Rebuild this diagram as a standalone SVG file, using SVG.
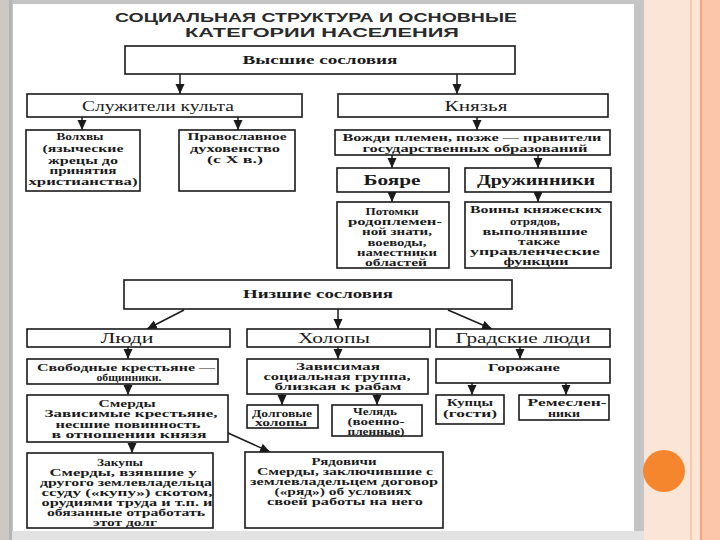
<svg xmlns="http://www.w3.org/2000/svg" width="720" height="540" viewBox="0 0 720 540">
<style>
.box{fill:#fff;stroke:#1a1a1a;stroke-width:1.6}
.t{font-family:"Liberation Serif","DejaVu Serif",serif;font-weight:bold;font-size:9.5px;fill:#1a1a1a;text-anchor:middle}
.h{font-family:"Liberation Serif","DejaVu Serif",serif;font-size:14px;fill:#1a1a1a;text-anchor:middle}
.hb{font-family:"Liberation Serif","DejaVu Serif",serif;font-weight:bold;font-size:14px;fill:#1a1a1a;text-anchor:middle}
.m{font-family:"Liberation Serif","DejaVu Serif",serif;font-weight:bold;font-size:12px;fill:#1a1a1a;text-anchor:middle}
.ti{font-family:"Liberation Sans","DejaVu Sans",sans-serif;font-weight:bold;font-size:12px;fill:#2a2a2a;text-anchor:middle}
.c{stroke:#1a1a1a;stroke-width:1.5;fill:none;marker-end:url(#ah)}
</style>
<defs>
<marker id="ah" markerUnits="userSpaceOnUse" markerWidth="10" markerHeight="10" viewBox="0 0 10 10" refX="10" refY="5" orient="auto">
<path d="M0,0.5 L10,5 L0,9.5 Z" fill="#1a1a1a"/>
</marker>
</defs>
<!-- background / slide frame -->
<rect x="0" y="0" width="720" height="540" fill="#fbe5d6"/>
<rect x="0" y="0" width="13" height="540" fill="#cdc8c3"/>
<rect x="9" y="0" width="3" height="540" fill="#b5b5b5"/>
<rect x="12" y="0" width="632" height="540" fill="#c4c4c4"/>
<rect x="13" y="4" width="621" height="527" fill="#ffffff"/>
<rect x="12" y="531" width="632" height="9" fill="#e2e2e2"/>
<rect x="690" y="0" width="2" height="540" fill="#f2cbb5"/>
<rect x="700" y="0" width="20" height="540" fill="#fcc6ab"/>
<rect x="700" y="0" width="2" height="540" fill="#f5a57c"/>
<circle cx="664" cy="471" r="21" fill="#f6862e"/>

<g id="title">
<text class="ti" x="316" y="21.5" textLength="402" lengthAdjust="spacingAndGlyphs">СОЦИАЛЬНАЯ СТРУКТУРА  И ОСНОВНЫЕ</text>
<text class="ti" x="322" y="36.5" textLength="274" lengthAdjust="spacingAndGlyphs">КАТЕГОРИИ  НАСЕЛЕНИЯ</text>
</g>

<g id="connectors">
<line class="c" x1="180" y1="74" x2="180" y2="94"/>
<line class="c" x1="457" y1="74" x2="457" y2="94"/>
<line class="c" x1="82" y1="117" x2="82" y2="130"/>
<line class="c" x1="238" y1="117" x2="238" y2="130"/>
<line class="c" x1="477" y1="117" x2="477" y2="130"/>
<line class="c" x1="392" y1="155" x2="392" y2="168"/>
<line class="c" x1="538" y1="155" x2="538" y2="168"/>
<line class="c" x1="392" y1="192" x2="392" y2="202"/>
<line class="c" x1="538" y1="192" x2="538" y2="202"/>
<line class="c" x1="184" y1="310" x2="147" y2="329"/>
<line class="c" x1="338" y1="309" x2="338" y2="329"/>
<line class="c" x1="448" y1="310" x2="492" y2="329"/>
<line class="c" x1="128" y1="347" x2="128" y2="359"/>
<line class="c" x1="338" y1="347" x2="338" y2="359"/>
<line class="c" x1="520" y1="347" x2="520" y2="359"/>
<line class="c" x1="128" y1="384" x2="128" y2="395"/>
<line class="c" x1="282" y1="394" x2="282" y2="405"/>
<line class="c" x1="377" y1="394" x2="377" y2="405"/>
<line class="c" x1="472" y1="383" x2="472" y2="395"/>
<line class="c" x1="566" y1="383" x2="566" y2="395"/>
<line class="c" x1="132" y1="442" x2="132" y2="453"/>
<line class="c" x1="228" y1="433" x2="270" y2="452"/>
</g>

<g id="vysshie">
<rect class="box" x="125" y="46" width="390" height="28"/>
<text class="m" x="320" y="64" textLength="155" lengthAdjust="spacingAndGlyphs">Высшие сословия</text>
</g>
<g id="sluzhiteli">
<rect class="box" x="27" y="94" width="275" height="23"/>
<text class="h" x="158" y="110.5" textLength="152" lengthAdjust="spacingAndGlyphs">Служители культа</text>
</g>
<g id="knyazya">
<rect class="box" x="338" y="94" width="270" height="23"/>
<text class="h" x="476" y="110.5" textLength="63" lengthAdjust="spacingAndGlyphs">Князья</text>
</g>
<g id="volkhvy">
<rect class="box" x="26" y="130" width="114" height="61"/>
<text class="t" x="80" y="140" textLength="47" lengthAdjust="spacingAndGlyphs">Волхвы</text>
<text class="t" x="83" y="152" textLength="81" lengthAdjust="spacingAndGlyphs">(языческие</text>
<text class="t" x="83" y="163.5" textLength="70" lengthAdjust="spacingAndGlyphs">жрецы до</text>
<text class="t" x="83" y="174" textLength="67" lengthAdjust="spacingAndGlyphs">принятия</text>
<text class="t" x="83" y="184.5" textLength="109" lengthAdjust="spacingAndGlyphs">христианства)</text>
</g>
<g id="pravoslavnoe">
<rect class="box" x="179" y="130" width="116" height="61"/>
<text class="t" x="237" y="140" textLength="99" lengthAdjust="spacingAndGlyphs">Православное</text>
<text class="t" x="235" y="151.5" textLength="90" lengthAdjust="spacingAndGlyphs">духовенство</text>
<text class="t" x="235" y="163" textLength="56" lengthAdjust="spacingAndGlyphs">(с X в.)</text>
</g>
<g id="vozhdi">
<rect class="box" x="335" y="130" width="275" height="25"/>
<text class="t" x="472" y="140.5" textLength="259" lengthAdjust="spacingAndGlyphs">Вожди племен, позже — правители</text>
<text class="t" x="475" y="151.5" textLength="225" lengthAdjust="spacingAndGlyphs">государственных образований</text>
</g>
<g id="boyare">
<rect class="box" x="337" y="168" width="112" height="24"/>
<text class="hb" x="392" y="185" textLength="57" lengthAdjust="spacingAndGlyphs">Бояре</text>
</g>
<g id="druzhinniki">
<rect class="box" x="465" y="168" width="146" height="24"/>
<text class="hb" x="536" y="185" textLength="118" lengthAdjust="spacingAndGlyphs">Дружинники</text>
</g>
<g id="potomki">
<rect class="box" x="337" y="202" width="112" height="66"/>
<text class="t" x="392" y="215" textLength="53" lengthAdjust="spacingAndGlyphs">Потомки</text>
<text class="t" x="395" y="225" textLength="94" lengthAdjust="spacingAndGlyphs">родоплемен-</text>
<text class="t" x="397" y="235" textLength="70" lengthAdjust="spacingAndGlyphs">ной знати,</text>
<text class="t" x="397" y="246" textLength="59" lengthAdjust="spacingAndGlyphs">воеводы,</text>
<text class="t" x="397" y="256" textLength="80" lengthAdjust="spacingAndGlyphs">наместники</text>
<text class="t" x="396" y="266" textLength="62" lengthAdjust="spacingAndGlyphs">областей</text>
</g>
<g id="voiny">
<rect class="box" x="465" y="202" width="146" height="66"/>
<text class="t" x="536" y="213" textLength="132" lengthAdjust="spacingAndGlyphs">Воины княжеских</text>
<text class="t" x="535" y="225" textLength="50" lengthAdjust="spacingAndGlyphs">отрядов,</text>
<text class="t" x="535" y="235" textLength="105" lengthAdjust="spacingAndGlyphs">выполнявшие</text>
<text class="t" x="539" y="245" textLength="42" lengthAdjust="spacingAndGlyphs">также</text>
<text class="t" x="535" y="255" textLength="130" lengthAdjust="spacingAndGlyphs">управленческие</text>
<text class="t" x="536" y="264.5" textLength="65" lengthAdjust="spacingAndGlyphs">функции</text>
</g>

<g id="nizshie">
<rect class="box" x="124" y="280" width="388" height="29"/>
<text class="m" x="318" y="298" textLength="150" lengthAdjust="spacingAndGlyphs">Низшие сословия</text>
</g>
<g id="lyudi">
<rect class="box" x="27" y="329" width="203" height="18"/>
<text class="h" x="127" y="342.5" textLength="53" lengthAdjust="spacingAndGlyphs">Люди</text>
</g>
<g id="kholopy">
<rect class="box" x="247" y="329" width="183" height="18"/>
<text class="h" x="334" y="342.5" textLength="72" lengthAdjust="spacingAndGlyphs">Холопы</text>
</g>
<g id="gradskie">
<rect class="box" x="436" y="329" width="174" height="18"/>
<text class="h" x="523" y="342.5" textLength="135" lengthAdjust="spacingAndGlyphs">Градские люди</text>
</g>
<g id="svobodnye">
<rect class="box" x="27" y="359" width="191" height="25"/>
<text class="t" x="126" y="371" textLength="178" lengthAdjust="spacingAndGlyphs">Свободные крестьяне —</text>
<text class="t" x="129" y="381" textLength="65" lengthAdjust="spacingAndGlyphs">общинники.</text>
</g>
<g id="smerdy">
<rect class="box" x="27" y="395" width="201" height="47"/>
<text class="t" x="127" y="407" textLength="57" lengthAdjust="spacingAndGlyphs">Смерды</text>
<text class="t" x="131" y="417" textLength="173" lengthAdjust="spacingAndGlyphs">Зависимые крестьяне,</text>
<text class="t" x="128" y="428" textLength="145" lengthAdjust="spacingAndGlyphs">несшие повинность</text>
<text class="t" x="129" y="438" textLength="155" lengthAdjust="spacingAndGlyphs">в отношении князя</text>
</g>
<g id="zavisimaya">
<rect class="box" x="247" y="359" width="181" height="35"/>
<text class="t" x="338" y="370" textLength="84" lengthAdjust="spacingAndGlyphs">Зависимая</text>
<text class="t" x="337" y="380" textLength="147" lengthAdjust="spacingAndGlyphs">социальная группа,</text>
<text class="t" x="338" y="390" textLength="127" lengthAdjust="spacingAndGlyphs">близкая к рабам</text>
</g>
<g id="dolgovye">
<rect class="box" x="247" y="405" width="71" height="23"/>
<text class="t" x="282" y="416.5" textLength="60" lengthAdjust="spacingAndGlyphs">Долговые</text>
<text class="t" x="281" y="426" textLength="52" lengthAdjust="spacingAndGlyphs">холопы</text>
</g>
<g id="chelyad">
<rect class="box" x="332" y="405" width="90" height="31"/>
<text class="t" x="375" y="415" textLength="44" lengthAdjust="spacingAndGlyphs">Челядь</text>
<text class="t" x="376" y="425" textLength="57" lengthAdjust="spacingAndGlyphs">(военно-</text>
<text class="t" x="376" y="434.5" textLength="57" lengthAdjust="spacingAndGlyphs">пленные)</text>
</g>
<g id="gorozhane">
<rect class="box" x="436" y="359" width="174" height="24"/>
<text class="t" x="524" y="371" textLength="72" lengthAdjust="spacingAndGlyphs">Горожане</text>
</g>
<g id="kuptsy">
<rect class="box" x="436" y="395" width="68" height="29"/>
<text class="t" x="470" y="406" textLength="46" lengthAdjust="spacingAndGlyphs">Купцы</text>
<text class="t" x="470" y="417" textLength="54" lengthAdjust="spacingAndGlyphs">(гости)</text>
</g>
<g id="remeslenniki">
<rect class="box" x="519" y="395" width="90" height="25"/>
<text class="t" x="567" y="406" textLength="79" lengthAdjust="spacingAndGlyphs">Ремеслен-</text>
<text class="t" x="564" y="417" textLength="32" lengthAdjust="spacingAndGlyphs">ники</text>
</g>
<g id="zakupy">
<rect class="box" x="27" y="453" width="186" height="75"/>
<text class="t" x="120" y="465.5" textLength="46" lengthAdjust="spacingAndGlyphs">Закупы</text>
<text class="t" x="123" y="475.5" textLength="147" lengthAdjust="spacingAndGlyphs">Смерды, взявшие у</text>
<text class="t" x="126" y="485.5" textLength="172" lengthAdjust="spacingAndGlyphs">другого землевладельца</text>
<text class="t" x="127" y="496" textLength="171" lengthAdjust="spacingAndGlyphs">ссуду («купу») скотом,</text>
<text class="t" x="127" y="506" textLength="171" lengthAdjust="spacingAndGlyphs">орудиями труда и т.п. и</text>
<text class="t" x="126" y="516" textLength="158" lengthAdjust="spacingAndGlyphs">обязанные отработать</text>
<text class="t" x="125" y="526" textLength="64" lengthAdjust="spacingAndGlyphs">этот долг</text>
</g>
<g id="ryadovichi">
<rect class="box" x="245" y="452" width="198" height="76"/>
<text class="t" x="344" y="465" textLength="65" lengthAdjust="spacingAndGlyphs">Рядовичи</text>
<text class="t" x="345" y="475" textLength="176" lengthAdjust="spacingAndGlyphs">Смерды, заключившие с</text>
<text class="t" x="344" y="485" textLength="188" lengthAdjust="spacingAndGlyphs">землевладельцем договор</text>
<text class="t" x="343" y="495" textLength="137" lengthAdjust="spacingAndGlyphs">(«ряд») об условиях</text>
<text class="t" x="345" y="505" textLength="156" lengthAdjust="spacingAndGlyphs">своей работы на него</text>
</g>
</svg>
